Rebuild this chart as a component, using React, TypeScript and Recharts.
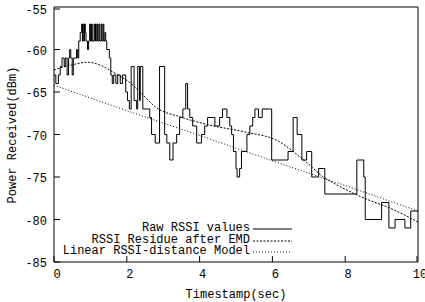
import React from "react";
import { LineChart, Line, XAxis, YAxis } from "recharts";

// raw RSSI samples (step changes)
const rawTimes = [
  0.0, 0.05, 0.12, 0.17, 0.22, 0.28, 0.31, 0.36, 0.4, 0.43, 0.46, 0.5, 0.53, 0.62, 0.65, 0.68,
  0.72, 0.76, 0.78, 0.8, 0.82, 0.84, 0.86, 0.88, 0.92, 0.95, 0.98, 1.0, 1.03, 1.05, 1.1, 1.12,
  1.14, 1.16, 1.19, 1.21, 1.24, 1.26, 1.3, 1.32, 1.35, 1.37, 1.4, 1.42, 1.45, 1.52, 1.56, 1.6,
  1.64, 1.7, 1.75, 1.82, 1.88, 1.97, 2.02, 2.07, 2.12, 2.2, 2.27, 2.3, 2.35, 2.37, 2.44, 2.63,
  2.68, 2.78, 2.9, 3.04, 3.1, 3.18, 3.27, 3.37, 3.45, 3.54, 3.62, 3.67, 3.73, 3.81, 3.92, 4.05,
  4.14, 4.22, 4.42, 4.55, 4.63, 4.75, 4.83, 4.88, 4.93, 5.0, 5.03, 5.1, 5.15, 5.3, 5.38, 5.46,
  5.52, 5.62, 5.72, 5.98, 6.43, 6.57, 6.68, 6.81, 6.94, 7.08, 7.27, 7.44, 8.32, 8.51, 8.55, 9.0,
  9.2, 9.37, 9.64, 9.8, 10.0,
];
const rawValues = [
  -63, -64, -63, -62, -61, -62, -61, -63, -61, -60, -61, -63, -61, -60, -61, -59,
  -58, -57, -59, -57, -59, -57, -58, -59, -60, -59, -57, -59, -57, -59, -57, -59,
  -57, -59, -57, -59, -57, -59, -57, -59, -57, -59, -58, -59, -60, -61, -63, -64,
  -63, -64, -63, -64, -63, -65, -66, -67, -62, -66, -67, -62, -66, -62, -67, -68,
  -70, -71, -62, -70, -71, -73, -71, -70, -68, -67, -64, -67, -68, -69, -71, -70,
  -69, -68, -69, -68, -67, -68, -69, -70, -72, -74, -75, -74, -72, -70, -69, -68,
  -67, -68, -67, -73, -72, -68, -70, -73, -72, -75, -74, -77, -73, -75, -80, -78,
  -81, -80, -81, -79, -79,
];

// EMD residue (smooth trend)
const residueTimes = [0, 0.5, 0.93, 1.3, 1.6, 2.17, 2.5, 2.8, 3.45, 4.28, 5.24, 6.17, 6.54, 7.0, 7.37, 7.8, 8.27, 8.7, 9.2, 9.6, 10];
const residueValues = [-62.4, -61.8, -61.5, -61.9, -62.6, -64.2, -65.6, -66.8, -67.9, -68.9, -69.7, -70.8, -71.9, -73.5, -74.9, -76.0, -77.0, -77.8, -78.6, -79.4, -80.3];

// linear RSSI-distance model
const linearTimes = [0, 2, 4, 6, 8, 10];
const linearValues = [-64.2, -67.2, -70.1, -73.1, -76.0, -79.0];

const xTicks = [0, 2, 4, 6, 8, 10];
const yTicks = [-85, -80, -75, -70, -65, -60, -55];

const rawData = rawTimes.map((t, i) => ({ t, v: rawValues[i] }));
const residueData = residueTimes.map((t, i) => ({ t, v: residueValues[i] }));
const linearData = linearTimes.map((t, i) => ({ t, v: linearValues[i] }));

const W = 425;
const H = 302;
const LEFT = 54;
const RIGHT = 418;
const TOP = 7;
const BOTTOM = 262;
const FONT = "'Liberation Mono', 'DejaVu Sans Mono', monospace";
const TICK = 6;

const BottomTick = (props: any) => {
  const { x, payload } = props;
  return (
    <g>
      <line x1={x} x2={x} y1={BOTTOM} y2={BOTTOM - TICK} stroke="#000" />
      <text x={x + 3} y={BOTTOM + 13} textAnchor="middle" dominantBaseline="central" fontSize={12} fontFamily={FONT} fill="#000">
        {payload.value}
      </text>
    </g>
  );
};

const TopTick = (props: any) => {
  const { x } = props;
  return <line x1={x} x2={x} y1={TOP} y2={TOP + TICK} stroke="#000" />;
};

const LeftTick = (props: any) => {
  const { y, payload } = props;
  return (
    <g>
      <line x1={LEFT} x2={LEFT + TICK} y1={y} y2={y} stroke="#000" />
      <text x={LEFT - 7} y={y + 2} textAnchor="end" dominantBaseline="central" fontSize={12} fontFamily={FONT} fill="#000">
        {payload.value}
      </text>
    </g>
  );
};

const RightTick = (props: any) => {
  const { y } = props;
  return <line x1={RIGHT} x2={RIGHT - TICK} y1={y} y2={y} stroke="#000" />;
};

const legendItems = [
  { label: "Raw RSSI values", dash: undefined as string | undefined },
  { label: "RSSI Residue after EMD", dash: "2 1.5" },
  { label: "Linear RSSI-distance Model", dash: "1 2" },
];

export default function App() {
  return (
    <div style={{ position: "absolute", left: 0, top: 0, width: W, height: H, background: "#fff", fontFamily: FONT }}>
      <LineChart
        width={W}
        height={H}
        margin={{ top: TOP - 1, right: W - RIGHT - 1, bottom: H - BOTTOM - 1, left: LEFT - 1 }}
      >
        <XAxis
          xAxisId="b"
          dataKey="t"
          type="number"
          domain={[0, 10]}
          ticks={xTicks}
          height={1}
          tickSize={0}
          tickMargin={0}
          tickLine={false}
          axisLine={{ stroke: "#000" }}
          tick={<BottomTick />}
          allowDataOverflow
        />
        <XAxis
          xAxisId="t"
          orientation="top"
          dataKey="t"
          type="number"
          domain={[0, 10]}
          ticks={xTicks}
          height={1}
          tickSize={0}
          tickMargin={0}
          tickLine={false}
          axisLine={{ stroke: "#000" }}
          tick={<TopTick />}
        />
        <YAxis
          yAxisId="l"
          type="number"
          domain={[-85, -55]}
          ticks={yTicks}
          width={1}
          tickSize={0}
          tickMargin={0}
          tickLine={false}
          axisLine={{ stroke: "#000" }}
          tick={<LeftTick />}
          allowDataOverflow
        />
        <YAxis
          yAxisId="r"
          orientation="right"
          type="number"
          domain={[-85, -55]}
          ticks={yTicks}
          width={1}
          tickSize={0}
          tickMargin={0}
          tickLine={false}
          axisLine={{ stroke: "#000" }}
          tick={<RightTick />}
        />
        <Line
          xAxisId="b"
          yAxisId="l"
          data={linearData}
          dataKey="v"
          type="linear"
          stroke="#000"
          strokeWidth={1}
          strokeDasharray="1 2"
          dot={false}
          isAnimationActive={false}
        />
        <Line
          xAxisId="b"
          yAxisId="l"
          data={residueData}
          dataKey="v"
          type="monotone"
          stroke="#000"
          strokeWidth={1}
          strokeDasharray="2 1.5"
          dot={false}
          isAnimationActive={false}
        />
        <Line
          xAxisId="b"
          yAxisId="l"
          data={rawData}
          dataKey="v"
          type="stepAfter"
          stroke="#000"
          strokeWidth={1}
          dot={false}
          isAnimationActive={false}
        />
      </LineChart>

      {/* legend */}
      <div style={{ position: "absolute", left: 0, top: 223, width: 300 }}>
        {legendItems.map((it) => (
          <div
            key={it.label}
            style={{ display: "flex", alignItems: "center", height: 11.5, lineHeight: "11.5px", fontSize: 12 }}
          >
            <span style={{ width: 250, textAlign: "right", whiteSpace: "nowrap" }}>{it.label}</span>
            <svg width={42} height={11} style={{ marginLeft: 3 }}>
              <line x1={0} x2={39} y1={6} y2={6} stroke="#000" strokeDasharray={it.dash} />
            </svg>
          </div>
        ))}
      </div>

      <div
        style={{
          position: "absolute",
          left: LEFT,
          width: RIGHT - LEFT,
          top: 288,
          textAlign: "center",
          fontSize: 12,
          lineHeight: "14px",
        }}
      >
        Timestamp(sec)
      </div>
      <div
        style={{
          position: "absolute",
          left: 13,
          top: (TOP + BOTTOM) / 2,
          transform: "translate(-50%, -50%) rotate(-90deg)",
          whiteSpace: "nowrap",
          fontSize: 12,
          lineHeight: "14px",
        }}
      >
        Power Received(dBm)
      </div>
    </div>
  );
}
